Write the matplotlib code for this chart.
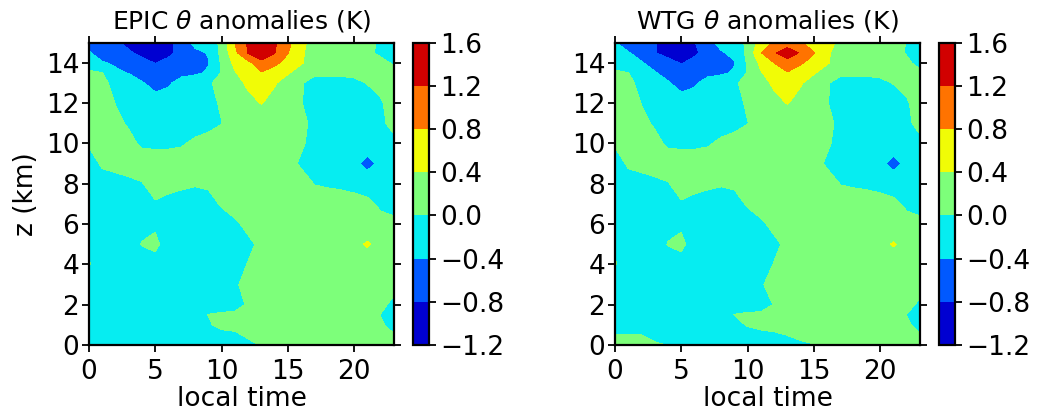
import numpy as np
import matplotlib
matplotlib.use("Agg")
import matplotlib.pyplot as plt

# local time (hours) and height (km) grid
local_time = list(range(24))
z_km = [0, 0.5, 1, 1.5, 2, 3, 4, 5, 6, 7, 8, 9, 10, 11, 12, 13, 13.5, 14, 14.5, 15]
levels = [-1.2, -0.8, -0.4, 0.0, 0.4, 0.8, 1.2, 1.6]
x_ticks = [0, 5, 10, 15, 20]
y_ticks = [0, 2, 4, 6, 8, 10, 12, 14]
titles = [r"EPIC $\theta$ anomalies (K)", r"WTG $\theta$ anomalies (K)"]

# theta anomalies (K), rows = z_km, columns = local_time
epic_theta = [
    [-0.15,-0.2,-0.2,-0.2,-0.2,-0.2,-0.2,-0.2,-0.2,-0.2,-0.2,-0.18,-0.16,0.04,0.15,0.2,0.2,0.2,0.2,0.2,0.18,0.15,0.1,0.05],
    [-0.2,-0.22,-0.22,-0.22,-0.22,-0.22,-0.22,-0.2,-0.2,-0.18,-0.15,-0.1,0.1,0.18,0.2,0.2,0.2,0.2,0.2,0.2,0.18,0.12,0.08,0.02],
    [-0.2,-0.22,-0.22,-0.22,-0.22,-0.22,-0.2,-0.18,-0.12,-0.06,0.14,0.18,0.2,0.2,0.2,0.2,0.2,0.2,0.2,0.18,0.15,0.12,0.06,-0.14],
    [-0.2,-0.22,-0.22,-0.22,-0.22,-0.2,-0.2,-0.2,-0.19,0.01,0.06,0.08,0.15,0.2,0.2,0.2,0.2,0.2,0.2,0.18,0.16,0.15,-0.01,-0.2],
    [-0.2,-0.22,-0.22,-0.22,-0.22,-0.22,-0.22,-0.22,-0.22,-0.2,-0.2,-0.15,0.05,0.15,0.2,0.2,0.2,0.2,0.2,0.2,0.18,0.15,0.08,-0.08],
    [-0.2,-0.2,-0.22,-0.22,-0.22,-0.22,-0.22,-0.22,-0.2,-0.2,-0.15,-0.06,0.14,0.2,0.2,0.2,0.2,0.2,0.2,0.2,0.2,0.18,0.15,0.1],
    [0.02,-0.17,-0.2,-0.22,-0.2,-0.2,-0.2,-0.22,-0.22,-0.22,-0.2,-0.18,0.02,0.15,0.2,0.2,0.2,0.2,0.2,0.2,0.2,0.2,0.2,0.18],
    [-0.02,-0.15,-0.2,-0.2,0.02,0.12,-0.25,-0.22,-0.22,-0.22,-0.22,-0.2,-0.1,0.1,0.2,0.2,0.2,0.2,0.2,0.22,0.3,0.44,0.28,0.2],
    [-0.2,-0.2,-0.2,-0.22,-0.12,-0.08,-0.22,-0.22,-0.22,-0.2,-0.18,-0.08,0.12,0.2,0.2,0.2,0.2,0.2,0.2,0.2,0.2,0.18,0.15,0.08],
    [-0.2,-0.2,-0.2,-0.2,-0.2,-0.04,-0.1,-0.14,-0.17,-0.14,0.04,0.2,0.2,0.2,0.2,0.2,0.2,0.16,0.16,0.14,0.12,0.1,-0.08,-0.12],
    [-0.2,-0.15,-0.11,-0.07,-0.02,0.16,0.1,0.06,0.03,0.06,0.2,0.2,0.2,0.2,0.2,0.2,0.19,-0.01,-0.04,-0.06,-0.1,-0.2,-0.15,-0.2],
    [-0.16,0.05,0.09,0.13,0.18,0.2,0.2,0.2,0.2,0.2,0.2,0.2,0.2,0.2,0.2,0.14,-0.06,-0.2,-0.22,-0.25,-0.32,-0.5,-0.32,-0.25],
    [0.04,0.1,0.12,0.1,-0.06,-0.08,-0.08,-0.04,0.08,0.15,0.2,0.2,0.2,0.2,0.2,0.15,0.06,-0.14,-0.2,-0.22,-0.22,-0.22,-0.2,-0.1],
    [0.15,0.15,0.08,-0.04,-0.15,-0.2,-0.2,-0.2,-0.18,-0.12,-0.01,0.19,0.2,0.22,0.2,0.2,0.1,-0.1,-0.2,-0.22,-0.22,-0.2,-0.08,0.12],
    [0.18,0.19,-0.01,-0.15,-0.2,-0.25,-0.22,-0.2,-0.18,-0.14,0.06,0.25,0.32,0.41,0.32,0.22,0.02,-0.18,-0.2,-0.2,-0.18,-0.12,-0.04,0.16],
    [0.15,0.09,-0.11,-0.25,-0.37,-0.52,-0.45,-0.25,-0.15,-0.06,0.14,0.3,0.45,0.6,0.42,0.3,0.04,-0.16,-0.12,-0.1,-0.06,0.01,0.1,0.12],
    [0.1,0.01,-0.36,-0.41,-0.55,-0.65,-0.6,-0.5,-0.46,-0.36,0.03,0.37,0.6,0.77,0.6,0.42,0.3,0.08,0.06,0.05,0.06,0.08,0.1,0.05],
    [-0.3,-0.38,-0.43,-0.55,-0.68,-0.81,-0.7,-0.6,-0.5,-0.42,0.05,0.5,0.68,1.1,0.9,0.65,0.42,0.3,0.2,0.15,0.12,0.1,0.07,-0.03],
    [-0.38,-0.5,-0.62,-0.75,-0.9,-0.95,-0.88,-0.68,-0.48,-0.38,0.1,0.7,1.22,1.45,1.22,0.82,0.45,0.25,0.2,0.15,0.1,0.05,-0.05,-0.1],
    [-0.5,-0.6,-0.72,-0.9,-1.0,-1.0,-0.9,-0.6,-0.3,-0.25,0.1,0.8,1.25,1.55,1.25,0.9,0.5,0.25,0.2,0.15,0.12,0.1,-0.05,-0.15],
]

wtg_theta = [
    [0.12,0.12,0.1,0.04,-0.01,-0.2,-0.2,-0.2,-0.2,-0.2,-0.2,-0.2,-0.2,-0.15,-0.1,-0.02,0.1,0.2,0.2,0.2,0.18,0.15,0.1,0.05],
    [0.02,0.02,0.002,-0.08,-0.2,-0.22,-0.22,-0.2,-0.2,-0.2,-0.18,-0.14,-0.09,0.01,0.12,0.2,0.2,0.2,0.2,0.2,0.18,0.12,0.08,0.02],
    [-0.2,-0.22,-0.22,-0.22,-0.22,-0.22,-0.2,-0.18,-0.16,-0.16,0.04,0.14,0.2,0.2,0.2,0.2,0.2,0.2,0.2,0.18,0.15,0.12,0.06,-0.12],
    [-0.2,-0.22,-0.22,-0.22,-0.22,-0.2,-0.2,-0.2,-0.19,0.01,0.06,0.08,0.15,0.2,0.2,0.2,0.2,0.2,0.2,0.18,0.16,0.15,-0.01,-0.2],
    [-0.2,-0.22,-0.22,-0.22,-0.22,-0.22,-0.22,-0.22,-0.22,-0.2,-0.2,-0.18,0.02,0.15,0.2,0.2,0.2,0.2,0.2,0.2,0.18,0.15,0.1,-0.06],
    [-0.2,-0.2,-0.22,-0.22,-0.22,-0.22,-0.22,-0.22,-0.2,-0.2,-0.15,-0.04,0.14,0.2,0.2,0.2,0.2,0.2,0.2,0.2,0.2,0.18,0.15,0.1],
    [0.02,-0.17,-0.2,-0.22,-0.2,-0.2,-0.2,-0.22,-0.22,-0.22,-0.2,-0.18,0.02,0.15,0.2,0.2,0.2,0.2,0.2,0.2,0.2,0.2,0.2,0.18],
    [-0.02,-0.15,-0.2,-0.2,0.02,0.12,-0.25,-0.22,-0.22,-0.22,-0.22,-0.2,-0.1,0.1,0.2,0.2,0.2,0.2,0.2,0.22,0.3,0.43,0.28,0.2],
    [-0.2,-0.2,-0.2,-0.22,-0.12,-0.08,-0.22,-0.22,-0.22,-0.2,-0.18,-0.08,0.12,0.2,0.2,0.2,0.2,0.2,0.2,0.2,0.2,0.18,0.15,0.08],
    [-0.2,-0.2,-0.2,-0.2,-0.2,-0.04,-0.1,-0.14,-0.17,-0.14,0.04,0.2,0.2,0.2,0.2,0.2,0.2,0.16,0.16,0.14,0.12,0.1,-0.08,-0.12],
    [-0.2,-0.15,-0.11,-0.07,-0.02,0.16,0.1,0.06,0.03,0.06,0.2,0.2,0.2,0.2,0.2,0.2,0.19,-0.01,-0.04,-0.06,-0.1,-0.2,-0.15,-0.2],
    [-0.16,0.05,0.09,0.13,0.18,0.2,0.2,0.2,0.2,0.2,0.2,0.2,0.2,0.2,0.2,0.14,-0.06,-0.2,-0.22,-0.25,-0.32,-0.5,-0.32,-0.25],
    [0.04,0.1,0.12,0.1,-0.06,-0.08,-0.08,-0.04,0.08,0.15,0.2,0.2,0.2,0.2,0.2,0.15,0.06,-0.14,-0.2,-0.22,-0.22,-0.22,-0.2,-0.1],
    [0.15,0.15,0.08,-0.04,-0.15,-0.2,-0.2,-0.2,-0.18,-0.12,-0.01,0.19,0.2,0.22,0.2,0.2,0.1,-0.1,-0.2,-0.22,-0.22,-0.2,-0.08,0.12],
    [0.18,0.19,-0.01,-0.15,-0.2,-0.25,-0.22,-0.2,-0.18,-0.14,0.06,0.25,0.32,0.41,0.32,0.22,0.02,-0.18,-0.2,-0.2,-0.18,-0.12,-0.04,0.16],
    [0.15,0.09,-0.11,-0.25,-0.37,-0.52,-0.45,-0.25,-0.15,-0.06,0.14,0.3,0.45,0.6,0.42,0.3,0.04,-0.16,-0.12,-0.1,-0.06,0.01,0.1,0.12],
    [0.1,0.01,-0.2,-0.38,-0.5,-0.65,-0.6,-0.5,-0.46,-0.36,0.03,0.37,0.6,0.77,0.6,0.42,0.3,0.08,0.06,0.05,0.06,0.08,0.1,0.05],
    [-0.25,-0.3,-0.38,-0.5,-0.7,-0.82,-0.7,-0.6,-0.5,-0.42,0.05,0.5,0.8,1.1,0.85,0.65,0.42,0.3,0.2,0.15,0.12,0.1,0.05,-0.08],
    [-0.3,-0.38,-0.5,-0.79,-0.9,-0.92,-0.86,-0.66,-0.43,-0.33,0.1,0.78,1.17,1.35,1.17,0.82,0.45,0.25,0.2,0.15,0.12,0.08,-0.02,-0.1],
    [-0.38,-0.55,-0.65,-0.78,-0.9,-0.92,-0.82,-0.5,-0.3,-0.25,0.1,0.55,0.85,1.05,0.85,0.55,0.55,0.3,0.2,0.15,0.12,0.12,-0.01,-0.1],
]

plt.rcParams['font.family'] = ['DejaVu Sans']
plt.rcParams['mathtext.fontset'] = 'dejavusans'

fig = plt.figure(figsize=(10.38, 4.19), dpi=100)
ax_rects = [[0.0857, 0.1766, 0.2938, 0.7215], [0.5925, 0.1766, 0.2938, 0.7215]]
cb_rects = [[0.3982, 0.1766, 0.0151, 0.7215], [0.9051, 0.1766, 0.0151, 0.7215]]
fs = 19

for i, data in enumerate([epic_theta, wtg_theta]):
    ax = fig.add_axes(ax_rects[i])
    cax = fig.add_axes(cb_rects[i])
    cs = ax.contourf(local_time, z_km, np.array(data), levels=levels, cmap='jet')
    ax.set_xlim(0, 23)
    ax.set_ylim(0, 15)
    ax.set_xticks(x_ticks)
    ax.set_yticks(y_ticks)
    ax.tick_params(direction='out', top=True, right=True, length=5, width=1.3,
                   labelsize=fs, pad=2)
    ax.tick_params(axis='x', pad=5)
    for sp in ax.spines.values():
        sp.set_linewidth(1.6)
    ax.set_title(titles[i], fontsize=18, pad=10)
    ax.set_xlabel("local time", fontsize=fs, labelpad=1)
    if i == 0:
        ax.set_ylabel("z (km)", fontsize=fs, labelpad=5)
    cb = fig.colorbar(cs, cax=cax, ticks=levels)
    cb.ax.tick_params(direction='out', length=5, width=1.3, labelsize=fs, pad=3)
    cb.outline.set_linewidth(1.6)

fig.savefig("out.png", dpi=100)
